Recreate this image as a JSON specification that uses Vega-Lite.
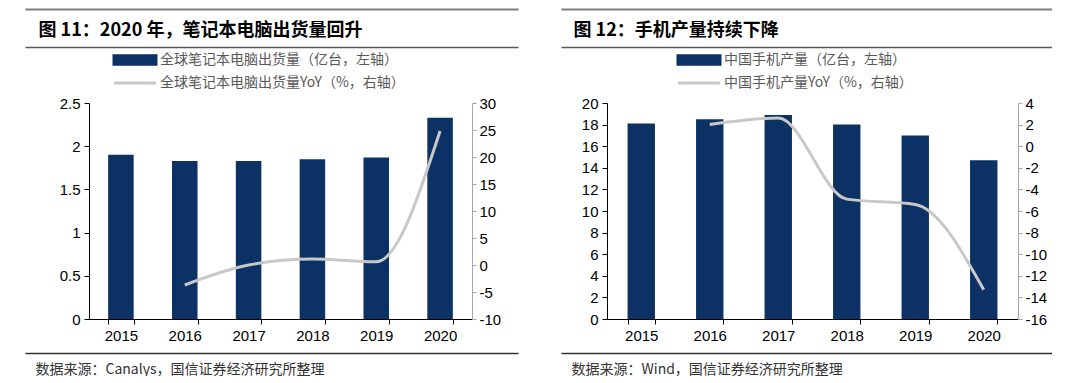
{
  "$schema": "https://vega.github.io/schema/vega-lite/v6.json",
  "padding": {"left": 25, "top": 9, "right": 0, "bottom": 0},
  "autosize": {"type": "pad"},
  "background": "white",
  "spacing": 43,
  "resolve": {"scale": {"color": "independent"}, "legend": {"color": "independent"}},
  "config": {
    "view": {"stroke": null},
    "locale": {"number": {"decimal": ".", "thousands": ",", "grouping": [3], "currency": ["$", ""], "minus": "-"}},
    "axis": {"labelFont": "Liberation Sans", "labelFontSize": 15, "labelColor": "#000", "grid": false}
  },
  "hconcat": [
    {
      "spacing": 0,
      "bounds": "flush",
      "resolve": {"scale": {"color": "independent"}, "legend": {"color": "independent"}},
      "vconcat": [
        {
          "width": 493,
          "height": 1,
          "data": {"values": [{"a": 0.5, "b": 0.5}]},
          "mark": {"type": "point", "opacity": 0, "size": 0},
          "encoding": {
            "x": {"field": "a", "type": "quantitative", "scale": {"domain": [0, 1]}, "axis": {"orient": "top", "labels": false, "ticks": false, "grid": false, "domainColor": "#7f7f7f", "domainWidth": 2, "title": null}},
            "y": {"field": "b", "type": "quantitative", "scale": {"domain": [0, 1]}, "axis": null}
          }
        },
        {
          "width": 493,
          "height": 93,
          "data": {"values": [{"a": 0.5, "b": 0.5}]},
          "mark": {"type": "point", "opacity": 0, "size": 0},
          "encoding": {
            "x": {"field": "a", "type": "quantitative", "scale": {"domain": [0, 1]}, "axis": {"orient": "bottom", "offset": -56, "labels": false, "ticks": false, "grid": false, "domainColor": "#595959", "domainWidth": 1.5, "title": "图 11：2020 年，笔记本电脑出货量回升", "titleX": 13, "titleY": -17, "titleAlign": "left", "titleBaseline": "middle", "titleFont": "Noto Sans CJK SC", "titleFontSize": 18, "titleFontWeight": "bold", "titleColor": "#000"}},
            "y": {"field": "b", "type": "quantitative", "scale": {"domain": [0, 1]}, "axis": null}
          }
        },
        {
          "width": 493,
          "height": 216,
          "data": {"values": [
            {"year": 2015, "ship": 1.90, "yoy": null},
            {"year": 2016, "ship": 1.83, "yoy": -3.7},
            {"year": 2017, "ship": 1.83, "yoy": 0.0},
            {"year": 2018, "ship": 1.85, "yoy": 1.1},
            {"year": 2019, "ship": 1.87, "yoy": 0.6},
            {"year": 2020, "ship": 2.33, "yoy": 24.8}
          ]},
          "layer": [
            {
              "mark": {"type": "bar"},
              "encoding": {
                "x": {"field": "year", "type": "ordinal", "scale": {"range": [64, 447], "paddingInner": 0.6, "paddingOuter": 0.3}, "axis": {"title": null, "labelAngle": 0, "tickBand": "extent", "domainColor": "#000", "tickColor": "#000", "tickSize": 5, "labelPadding": 4}},
                "y": {"field": "ship", "type": "quantitative", "scale": {"domain": [0, 2.5]}, "axis": {"orient": "left", "offset": -64, "values": [0, 0.5, 1, 1.5, 2, 2.5], "format": "~g", "title": null, "domainColor": "#000", "tickColor": "#000", "tickSize": 5, "labelPadding": 4}},
                "color": {
                  "datum": "全球笔记本电脑出货量（亿台，左轴）",
                  "type": "nominal",
                  "scale": {"domain": ["全球笔记本电脑出货量（亿台，左轴）", "全球笔记本电脑出货量YoY（%，右轴）"], "range": ["#0c3165", "#c8c8c8"]},
                  "legend": {
                    "orient": "none", "legendX": 103, "legendY": -50, "direction": "vertical", "title": null,
                    "symbolSize": 100, "labelOffset": 18, "rowPadding": 5, "padding": 0,
                    "labelFont": "Noto Sans CJK SC", "labelFontSize": 14, "labelColor": "#595959", "labelLimit": 0,
                    "encode": {"symbols": {"update": {
                      "shape": {"signal": "datum.index === 0 ? 'M-4.2,-0.85H4.2V0.85H-4.2Z' : 'M-4.2,0H4.2'"},
                      "fill": {"signal": "datum.index === 0 ? '#0c3165' : 'transparent'"},
                      "stroke": {"signal": "datum.index === 0 ? 'transparent' : '#c8c8c8'"},
                      "strokeWidth": {"value": 3}
                    }}}
                  }
                }
              }
            },
            {
              "transform": [{"filter": "datum.yoy != null"}],
              "mark": {"type": "line", "strokeWidth": 3, "interpolate": "monotone"},
              "encoding": {
                "x": {"field": "year", "type": "ordinal"},
                "y": {"field": "yoy", "type": "quantitative", "scale": {"domain": [-10, 30]}, "axis": {"orient": "right", "offset": -46, "values": [-10, -5, 0, 5, 10, 15, 20, 25, 30], "title": null, "domainColor": "#a6a6a6", "tickColor": "#a6a6a6", "tickSize": 4, "labelPadding": 3}},
                "color": {"datum": "全球笔记本电脑出货量YoY（%，右轴）", "type": "nominal"}
              }
            }
          ],
          "resolve": {"scale": {"y": "independent"}}
        },
        {
          "width": 493,
          "height": 34,
          "data": {"values": [{"a": 0.5, "b": 0.5}]},
          "mark": {"type": "point", "opacity": 0, "size": 0},
          "encoding": {
            "x": {"field": "a", "type": "quantitative", "scale": {"domain": [0, 1]}, "axis": {"orient": "bottom", "labels": false, "ticks": false, "grid": false, "domainColor": "#333", "domainWidth": 1.5, "title": "数据来源：Canalys，国信证券经济研究所整理", "titleX": 10, "titleY": 16, "titleAlign": "left", "titleBaseline": "middle", "titleFont": "Noto Sans CJK SC", "titleFontSize": 14, "titleFontWeight": "normal", "titleColor": "#333"}},
            "y": {"field": "b", "type": "quantitative", "scale": {"domain": [0, 1]}, "axis": null}
          }
        }
      ]
    },
    {
      "spacing": 0,
      "bounds": "flush",
      "resolve": {"scale": {"color": "independent"}, "legend": {"color": "independent"}},
      "vconcat": [
        {
          "width": 491,
          "height": 1,
          "data": {"values": [{"a": 0.5, "b": 0.5}]},
          "mark": {"type": "point", "opacity": 0, "size": 0},
          "encoding": {
            "x": {"field": "a", "type": "quantitative", "scale": {"domain": [0, 1]}, "axis": {"orient": "top", "labels": false, "ticks": false, "grid": false, "domainColor": "#7f7f7f", "domainWidth": 2, "title": null}},
            "y": {"field": "b", "type": "quantitative", "scale": {"domain": [0, 1]}, "axis": null}
          }
        },
        {
          "width": 491,
          "height": 93,
          "data": {"values": [{"a": 0.5, "b": 0.5}]},
          "mark": {"type": "point", "opacity": 0, "size": 0},
          "encoding": {
            "x": {"field": "a", "type": "quantitative", "scale": {"domain": [0, 1]}, "axis": {"orient": "bottom", "offset": -56, "labels": false, "ticks": false, "grid": false, "domainColor": "#595959", "domainWidth": 1.5, "title": "图 12：手机产量持续下降", "titleX": 12, "titleY": -17, "titleAlign": "left", "titleBaseline": "middle", "titleFont": "Noto Sans CJK SC", "titleFontSize": 18, "titleFontWeight": "bold", "titleColor": "#000"}},
            "y": {"field": "b", "type": "quantitative", "scale": {"domain": [0, 1]}, "axis": null}
          }
        },
        {
          "width": 491,
          "height": 216,
          "data": {"values": [
            {"year": 2015, "prod": 18.1, "yoy": null},
            {"year": 2016, "prod": 18.5, "yoy": 2.0},
            {"year": 2017, "prod": 18.9, "yoy": 2.6},
            {"year": 2018, "prod": 18.0, "yoy": -4.9},
            {"year": 2019, "prod": 17.0, "yoy": -5.4},
            {"year": 2020, "prod": 14.7, "yoy": -13.3}
          ]},
          "layer": [
            {
              "mark": {"type": "bar"},
              "encoding": {
                "x": {"field": "year", "type": "ordinal", "scale": {"range": [46, 457], "paddingInner": 0.6, "paddingOuter": 0.3}, "axis": {"title": null, "labelAngle": 0, "tickBand": "extent", "domainColor": "#000", "tickColor": "#000", "tickSize": 5, "labelPadding": 4}},
                "y": {"field": "prod", "type": "quantitative", "scale": {"domain": [0, 20]}, "axis": {"orient": "left", "offset": -46, "values": [0, 2, 4, 6, 8, 10, 12, 14, 16, 18, 20], "title": null, "domainColor": "#000", "tickColor": "#000", "tickSize": 5, "labelPadding": 4}},
                "color": {
                  "datum": "中国手机产量（亿台，左轴）",
                  "type": "nominal",
                  "scale": {"domain": ["中国手机产量（亿台，左轴）", "中国手机产量YoY（%，右轴）"], "range": ["#0c3165", "#c8c8c8"]},
                  "legend": {
                    "orient": "none", "legendX": 131, "legendY": -50, "direction": "vertical", "title": null,
                    "symbolSize": 100, "labelOffset": 18, "rowPadding": 5, "padding": 0,
                    "labelFont": "Noto Sans CJK SC", "labelFontSize": 14, "labelColor": "#595959", "labelLimit": 0,
                    "encode": {"symbols": {"update": {
                      "shape": {"signal": "datum.index === 0 ? 'M-4.2,-0.85H4.2V0.85H-4.2Z' : 'M-4.2,0H4.2'"},
                      "fill": {"signal": "datum.index === 0 ? '#0c3165' : 'transparent'"},
                      "stroke": {"signal": "datum.index === 0 ? 'transparent' : '#c8c8c8'"},
                      "strokeWidth": {"value": 3}
                    }}}
                  }
                }
              }
            },
            {
              "transform": [{"filter": "datum.yoy != null"}],
              "mark": {"type": "line", "strokeWidth": 3, "interpolate": "monotone"},
              "encoding": {
                "x": {"field": "year", "type": "ordinal"},
                "y": {"field": "yoy", "type": "quantitative", "scale": {"domain": [-16, 4]}, "axis": {"orient": "right", "offset": -34, "values": [-16, -14, -12, -10, -8, -6, -4, -2, 0, 2, 4], "title": null, "domainColor": "#a6a6a6", "tickColor": "#a6a6a6", "tickSize": 4, "labelPadding": 3}},
                "color": {"datum": "中国手机产量YoY（%，右轴）", "type": "nominal"}
              }
            }
          ],
          "resolve": {"scale": {"y": "independent"}}
        },
        {
          "width": 491,
          "height": 34,
          "data": {"values": [{"a": 0.5, "b": 0.5}]},
          "mark": {"type": "point", "opacity": 0, "size": 0},
          "encoding": {
            "x": {"field": "a", "type": "quantitative", "scale": {"domain": [0, 1]}, "axis": {"orient": "bottom", "labels": false, "ticks": false, "grid": false, "domainColor": "#333", "domainWidth": 1.5, "title": "数据来源：Wind，国信证券经济研究所整理", "titleX": 10, "titleY": 16, "titleAlign": "left", "titleBaseline": "middle", "titleFont": "Noto Sans CJK SC", "titleFontSize": 14, "titleFontWeight": "normal", "titleColor": "#333"}},
            "y": {"field": "b", "type": "quantitative", "scale": {"domain": [0, 1]}, "axis": null}
          }
        }
      ]
    }
  ]
}
